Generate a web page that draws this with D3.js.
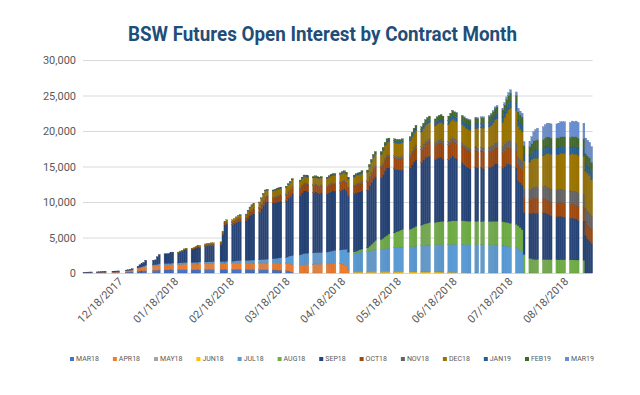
<!DOCTYPE html>
<html>
<head>
<meta charset="utf-8">
<script src="https://cdn.jsdelivr.net/npm/d3@7"></script>
<style>
  body { margin: 0; background: #fff; }
  text { font-family: Roboto, "Liberation Sans", Arial, sans-serif; }
</style>
</head>
<body>
<svg width="640" height="395"></svg>
<script>
// trading days, one line per ~4 weeks
var dates = [
  "2017-12-11","2017-12-12","2017-12-13","2017-12-14","2017-12-15", "2017-12-18","2017-12-19","2017-12-20","2017-12-21","2017-12-22", "2017-12-26","2017-12-27","2017-12-28","2017-12-29", "2018-01-02","2018-01-03","2018-01-04","2018-01-05",
  "2018-01-08","2018-01-09","2018-01-10","2018-01-11","2018-01-12", "2018-01-16","2018-01-17","2018-01-18","2018-01-19", "2018-01-22","2018-01-23","2018-01-24","2018-01-25","2018-01-26", "2018-01-29","2018-01-30","2018-01-31","2018-02-01","2018-02-02",
  "2018-02-05","2018-02-06","2018-02-07","2018-02-08","2018-02-09", "2018-02-12","2018-02-13","2018-02-14","2018-02-15","2018-02-16", "2018-02-20","2018-02-21","2018-02-22","2018-02-23", "2018-02-26","2018-02-27","2018-02-28","2018-03-01","2018-03-02",
  "2018-03-05","2018-03-06","2018-03-07","2018-03-08","2018-03-09", "2018-03-12","2018-03-13","2018-03-14","2018-03-15","2018-03-16", "2018-03-19","2018-03-20","2018-03-21","2018-03-22","2018-03-23", "2018-03-26","2018-03-27","2018-03-28","2018-03-29",
  "2018-04-02","2018-04-03","2018-04-04","2018-04-05","2018-04-06", "2018-04-09","2018-04-10","2018-04-11","2018-04-12","2018-04-13", "2018-04-16","2018-04-17","2018-04-18","2018-04-19","2018-04-20", "2018-04-23","2018-04-24","2018-04-25","2018-04-26","2018-04-27",
  "2018-04-30","2018-05-01","2018-05-02","2018-05-03","2018-05-04", "2018-05-07","2018-05-08","2018-05-09","2018-05-10","2018-05-11", "2018-05-14","2018-05-15","2018-05-16","2018-05-17","2018-05-18", "2018-05-21","2018-05-22","2018-05-23","2018-05-24","2018-05-25",
  "2018-05-29","2018-05-30","2018-05-31","2018-06-01", "2018-06-04","2018-06-05","2018-06-06","2018-06-07","2018-06-08", "2018-06-11","2018-06-12","2018-06-13","2018-06-14","2018-06-15", "2018-06-18","2018-06-19","2018-06-20","2018-06-21","2018-06-22",
  "2018-06-25","2018-06-26","2018-06-27","2018-06-28","2018-06-29", "2018-07-02","2018-07-03","2018-07-05","2018-07-06", "2018-07-09","2018-07-10","2018-07-11","2018-07-12","2018-07-13", "2018-07-16","2018-07-17","2018-07-18","2018-07-19","2018-07-20",
  "2018-07-23","2018-07-24","2018-07-25","2018-07-26","2018-07-27", "2018-07-30","2018-07-31","2018-08-01","2018-08-02","2018-08-03", "2018-08-06","2018-08-07","2018-08-08","2018-08-09","2018-08-10", "2018-08-13","2018-08-14","2018-08-15","2018-08-16","2018-08-17",
  "2018-08-20","2018-08-21","2018-08-22","2018-08-23","2018-08-24", "2018-08-27","2018-08-28","2018-08-29","2018-08-30","2018-08-31"
];

// open interest per contract month, same layout as dates
var MAR18 = [
  40,40,50,50,50, 60,60,70,70,70, 80,80,90,90, 120,130,140,150,
  250,280,300,330,350, 380,390,400,420, 430,430,440,440,450, 450,460,460,470,470,
  470,480,480,490,490, 490,490,500,500,500, 500,500,510,510, 510,510,520,520,520,
  520,510,500,490,480, 470,460,450,450,440, 430,420,410,400,390, 350,300,200,100,
  0,0,0,0,0, 0,0,0,0,0, 0,0,0,0,0, 0,0,0,0,0,
  0,0,0,0,0, 0,0,0,0,0, 0,0,0,0,0, 0,0,0,0,0,
  0,0,0,0, 0,0,0,0,0, 0,0,0,0,0, 0,0,0,0,0,
  0,0,0,0,0, 0,0,0,0, 0,0,0,0,0, 0,0,0,0,0,
  0,0,0,0,0, 0,0,0,0,0, 0,0,0,0,0, 0,0,0,0,0,
  0,0,0,0,0, 0,0,0,0,0
];
var APR18 = [
  20,20,30,30,30, 40,50,50,60,60, 70,80,80,90, 180,200,230,260,
  400,450,480,520,560, 600,620,650,680, 700,700,710,720,730, 730,740,750,760,770,
  770,780,780,790,800, 800,800,810,810,820, 820,830,840,850, 850,860,870,880,880,
  890,900,910,920,930, 940,950,950,960,960, 970,980,990,1000,1010, 1020,1040,1060,1080,
  1100,1120,1140,1150,1150, 1200,1220,1230,1240,1250, 1260,1270,1280,1290,1300, 1300,1250,1200,1000,400,
  0,0,0,0,0, 0,0,0,0,0, 0,0,0,0,0, 0,0,0,0,0,
  0,0,0,0, 0,0,0,0,0, 0,0,0,0,0, 0,0,0,0,0,
  0,0,0,0,0, 0,0,0,0, 0,0,0,0,0, 0,0,0,0,0,
  0,0,0,0,0, 0,0,0,0,0, 0,0,0,0,0, 0,0,0,0,0,
  0,0,0,0,0, 0,0,0,0,0
];
var MAY18 = [
  0,0,0,0,0, 0,0,0,0,0, 0,0,0,0, 30,30,30,40,
  40,40,50,50,50, 50,50,50,50, 50,50,50,50,50, 50,50,50,50,50,
  50,50,50,50,50, 50,50,50,50,50, 50,50,50,50, 50,50,50,50,50,
  50,50,50,50,50, 50,50,50,50,50, 50,50,50,50,50, 50,50,50,50,
  50,50,50,50,50, 50,50,50,50,50, 50,50,50,50,50, 50,50,50,50,50,
  80,80,80,80,80, 80,80,80,80,80, 80,80,70,70,70, 60,60,50,50,40,
  30,20,0,0, 0,0,0,0,0, 0,0,0,0,0, 0,0,0,0,0,
  0,0,0,0,0, 0,0,0,0, 0,0,0,0,0, 0,0,0,0,0,
  0,0,0,0,0, 0,0,0,0,0, 0,0,0,0,0, 0,0,0,0,0,
  0,0,0,0,0, 0,0,0,0,0
];
var JUN18 = [
  0,0,0,0,0, 0,0,0,0,0, 0,0,0,0, 0,0,0,0,
  0,0,0,0,0, 0,0,0,0, 0,0,0,0,0, 0,0,0,0,0,
  0,0,0,0,0, 0,0,0,0,0, 0,0,0,0, 0,0,0,0,0,
  0,0,0,0,0, 0,0,0,0,0, 0,0,0,0,0, 0,0,0,0,
  0,0,0,0,0, 0,0,0,0,0, 0,0,0,0,0, 0,0,0,0,0,
  100,100,100,100,100, 110,110,120,120,130, 130,130,140,140,140, 140,150,150,150,150,
  150,150,150,150, 150,150,150,150,150, 150,150,140,140,130, 130,120,110,100,80,
  60,40,20,10,0, 0,0,0,0, 0,0,0,0,0, 0,0,0,0,0,
  0,0,0,0,0, 0,0,0,0,0, 0,0,0,0,0, 0,0,0,0,0,
  0,0,0,0,0, 0,0,0,0,0
];
var JUL18 = [
  0,0,0,0,0, 0,0,0,0,0, 0,0,0,0, 0,0,0,0,
  50,60,70,80,100, 120,120,140,150, 160,160,170,170,180, 180,190,190,200,200,
  200,200,210,210,220, 220,220,230,230,230, 230,240,250,250, 260,270,280,290,300,
  310,330,350,370,390, 400,430,460,490,520, 560,600,640,680,720, 800,950,1100,1250,
  1400,1500,1550,1600,1600, 1600,1600,1600,1600,1600, 1650,1700,1750,1800,1850, 1900,2000,2100,2250,2400,
  2600,2650,2700,2750,2800, 2850,2900,2950,3000,3050, 3100,3150,3200,3250,3300, 3350,3400,3400,3450,3450,
  3500,3550,3600,3650, 3700,3720,3750,3780,3800, 3820,3840,3860,3880,3900, 3900,3920,3940,3950,3960,
  4000,4000,4000,4000,4000, 4000,4000,4000,4000, 4000,4000,3980,3960,3950, 3900,3850,3800,3750,3700,
  3600,3400,3200,3000,0, 0,0,0,0,0, 0,0,0,0,0, 0,0,0,0,0,
  0,0,0,0,0, 0,0,0,0,0
];
var AUG18 = [
  0,0,0,0,0, 0,0,0,0,0, 0,0,0,0, 0,0,0,0,
  0,0,0,0,0, 0,0,0,0, 0,0,0,0,0, 0,0,0,0,0,
  0,0,0,0,0, 0,0,0,0,0, 0,0,0,0, 0,0,0,0,0,
  0,0,0,0,0, 0,0,0,0,0, 0,0,0,0,0, 0,0,0,0,
  0,0,0,0,0, 0,0,0,0,0, 0,0,0,0,0, 0,0,0,50,100,
  200,250,300,350,400, 500,700,900,1100,1300, 1400,1550,1700,1850,2000, 2100,2200,2300,2400,2500,
  2500,2600,2700,2800, 2900,3000,3050,3100,3150, 3150,3200,3200,3250,3250, 3250,3280,3300,3300,3300,
  3300,3300,3300,3300,3300, 3300,3300,3300,3300, 3300,3300,3320,3340,3360, 3350,3340,3330,3320,3300,
  3280,3250,3200,3100,2600, 2100,2000,1950,1900,1900, 1900,1900,1900,1880,1880, 1880,1870,1870,1860,1860,
  1860,1850,1850,1840,1840, 1800,0,0,0,0
];
var SEP18 = [
  40,50,50,60,70, 60,70,80,90,100, 100,110,110,120, 90,100,120,150,
  210,320,400,520,740, 650,670,1060,1300, 1360,1360,1380,1470,1540, 1440,1540,1630,1760,1810,
  1810,1870,1990,2050,2060, 2210,2290,2260,2290,2280, 2410,3800,5080,5230, 5170,5300,5390,5510,5530,
  5570,5920,6280,6440,6510, 6660,7140,7600,8010,8020, 7850,7860,7880,7890,7920, 7930,8190,8380,8680,
  8380,8630,8830,8750,8650, 8490,8550,8410,8280,8360, 8190,8300,8400,8410,8330, 8360,8460,8490,8240,7920,
  8170,8240,8200,8170,8230, 8130,8490,8740,9010,8970, 8710,8970,9330,9500,9310, 9050,8740,8630,8430,8420,
  8610,8910,9220,9310, 8840,9060,9320,9380,9350, 8830,8980,9090,9040,8750, 8670,8940,9200,8900,8710,
  8210,7950,7690,7530,7380, 7590,7490,7500,7400, 7500,7610,7810,8060,8050, 7500,7840,8180,8320,8270,
  7910,6350,6280,6360,5940, 6200,6420,6530,6510,6520, 6600,6600,6480,6350,6150, 6090,6080,6140,6080,6000,
  5830,5910,5800,5780,5570, 5510,5200,4870,4560,4190
];
var OCT18 = [
  0,0,0,0,0, 0,0,0,0,0, 0,0,0,0, 0,0,0,0,
  0,0,0,0,0, 0,0,0,0, 0,0,0,0,0, 50,60,60,80,100,
  100,110,120,130,140, 150,160,160,170,170, 180,220,260,280, 300,320,340,360,380,
  400,450,500,550,600, 620,650,680,700,720, 740,760,780,800,820, 840,860,880,900,
  920,940,950,960,960, 970,980,990,1000,1000, 1000,1010,1020,1030,1040, 1050,1060,1070,1080,1090,
  1100,1110,1120,1130,1140, 1150,1200,1250,1300,1350, 1380,1420,1460,1500,1520, 1530,1540,1550,1560,1570,
  1600,1650,1700,1750, 1800,1850,1900,1950,2000, 2020,2040,2060,2080,2100, 2120,2140,2160,2180,2200,
  2300,2320,2340,2350,2350, 2360,2370,2380,2390, 2330,2310,2290,2270,2250, 2230,2250,2270,2290,2310,
  2300,2200,2150,2100,2050, 2050,2080,2100,2110,2110, 1950,1950,1950,1950,1950, 1950,1950,1960,1960,1960,
  1960,1970,1970,1980,1980, 1980,1980,1990,1990,2000
];
var NOV18 = [
  0,0,0,0,0, 0,0,0,0,0, 0,0,0,0, 0,0,0,0,
  0,0,0,0,0, 0,0,0,0, 0,0,0,0,0, 0,0,0,0,0,
  0,0,0,0,0, 30,30,30,30,30, 30,40,50,50, 60,60,70,70,80,
  80,90,100,100,100, 100,110,120,120,130, 130,140,140,150,150, 150,150,150,150,
  150,150,160,160,160, 160,160,170,170,170, 170,170,180,180,180, 180,190,190,200,200,
  200,200,210,210,220, 220,230,240,250,260, 270,280,290,300,310, 310,320,320,330,330,
  340,350,360,370, 380,390,400,410,420, 430,440,450,460,470, 480,490,500,510,520,
  470,480,490,500,500, 500,510,510,520, 600,650,700,750,800, 850,900,950,1000,1050,
  1100,1150,1200,1250,1300, 1400,1500,1600,1650,1650, 1750,1800,1850,1850,1850, 1850,1860,1870,1880,1890,
  1900,1900,1910,1910,1920, 1920,1930,1930,1940,1940
];
var DEC18 = [
  0,0,0,0,0, 0,0,0,0,0, 0,0,0,0, 0,0,0,0,
  0,0,0,0,0, 0,0,0,0, 0,0,0,0,0, 50,60,60,80,100,
  100,110,120,130,140, 150,160,160,170,170, 180,220,260,280, 300,330,360,390,420,
  440,500,560,620,680, 700,740,780,800,820, 830,840,850,860,870, 880,880,890,900,
  900,910,920,930,930, 930,940,950,960,970, 980,990,1000,1010,1020, 1030,1040,1050,1060,1070,
  1080,1090,1100,1110,1120, 1150,1250,1350,1450,1550, 1600,1670,1740,1800,1840, 1850,1860,1870,1880,1890,
  1900,1960,2020,2080, 2100,2150,2200,2250,2300, 2320,2340,2360,2380,2400, 2420,2450,2480,2510,2540,
  2550,2560,2570,2580,2600, 2650,2700,2750,2800, 2850,2950,3050,3200,3300, 3400,3700,4000,4300,4600,
  4700,4300,4200,4100,3900, 3900,3950,4000,4000,4000, 4300,4500,4700,4800,4850, 4900,4950,5000,5050,5100,
  5150,5200,5200,5250,5250, 5250,5250,5250,5250,5000
];
var JAN19 = [
  0,0,0,0,0, 0,0,0,0,0, 0,0,0,0, 0,0,0,0,
  0,0,0,0,0, 0,0,0,0, 0,0,0,0,0, 0,0,0,0,0,
  0,0,0,0,0, 0,0,0,0,0, 0,0,0,0, 0,0,20,30,40,
  40,50,50,60,60, 60,70,80,80,90, 90,90,100,100,100, 100,100,100,100,
  100,100,100,100,100, 100,100,100,100,100, 100,110,110,120,120, 120,130,130,140,140,
  140,150,150,160,160, 160,180,200,210,220, 230,240,250,260,270, 270,280,280,290,290,
  300,320,340,360, 380,400,420,440,460, 480,490,500,510,520, 530,540,550,560,570,
  560,570,580,590,600, 610,620,630,640, 650,670,690,710,730, 750,800,850,900,950,
  950,900,900,900,950, 950,1000,1100,1150,1170, 1000,1000,1000,1000,1000, 1000,1000,1010,1010,1020,
  1020,1030,1030,1040,1040, 1040,1040,1050,1050,1050
];
var FEB19 = [
  0,0,0,0,0, 0,0,0,0,0, 0,0,0,0, 0,0,0,0,
  0,0,0,0,0, 0,0,0,0, 0,0,0,0,0, 0,0,0,0,0,
  0,0,0,0,0, 0,0,0,0,0, 0,0,0,0, 0,0,0,0,0,
  0,0,0,0,0, 0,0,30,40,50, 50,60,60,70,70, 80,80,90,90,
  100,100,100,100,100, 100,100,100,100,100, 100,100,110,110,110, 110,120,120,130,130,
  130,130,140,140,150, 150,160,170,180,190, 200,210,220,230,240, 240,250,250,260,260,
  270,290,310,330, 350,380,410,440,470, 500,520,540,560,580, 600,620,640,660,680,
  700,720,740,760,780, 790,800,810,820, 830,850,880,910,940, 970,1020,1070,1120,1170,
  1180,1150,1150,1150,1200, 1200,1250,1320,1380,1410, 1300,1300,1320,1320,1320, 1330,1340,1350,1360,1370,
  1380,1390,1390,1400,1400, 1400,1400,1410,1410,1420
];
var MAR19 = [
  0,0,0,0,0, 0,0,0,0,0, 0,0,0,0, 0,0,0,0,
  0,0,0,0,0, 0,0,0,0, 0,0,0,0,0, 0,0,0,0,0,
  0,0,0,0,0, 0,0,0,0,0, 0,0,0,0, 0,0,0,0,0,
  0,0,0,0,0, 0,0,0,0,0, 0,0,0,0,0, 0,0,0,0,
  0,0,0,0,0, 0,0,0,0,0, 0,0,0,0,0, 0,0,0,0,0,
  0,0,0,0,0, 0,0,0,0,0, 0,0,0,0,0, 0,0,0,0,0,
  0,0,0,0, 0,0,0,0,0, 0,0,0,0,0, 0,0,20,30,40,
  50,60,70,80,90, 100,110,120,130, 140,160,180,200,220, 250,300,350,400,450,
  480,500,520,540,560, 700,1000,1300,1500,1640, 1800,1850,1900,1950,2000, 2000,2050,2100,2100,2100,
  2100,2150,2150,2200,2200, 2200,2200,2200,2200,2200
];

var names = ["MAR18","APR18","MAY18","JUN18","JUL18","AUG18","SEP18","OCT18","NOV18","DEC18","JAN19","FEB19","MAR19"];
var colors = ["#4472c4","#ed7d31","#a5a5a5","#ffc000","#5b9bd5","#70ad47","#264478","#9e480e","#636363","#997300","#255e91","#43682b","#698ed0"];
var yTicks = [0, 5000, 10000, 15000, 20000, 25000, 30000];
var xLabels = ["12/18/2017","01/18/2018","02/18/2018","03/18/2018","04/18/2018","05/18/2018","06/18/2018","07/18/2018","08/18/2018"];

var series = [MAR18, APR18, MAY18, JUN18, JUL18, AUG18, SEP18, OCT18, NOV18, DEC18, JAN19, FEB19, MAR19];
series.forEach(function(s, j) {
  if (s.length !== dates.length) throw new Error(names[j] + " has " + s.length + " values, expected " + dates.length);
});

var svg = d3.select("svg"),
    plotLeft = 83, plotRight = 592.6, plotTop = 60, plotBottom = 273;

var parseDate = d3.timeParse("%Y-%m-%d");
var rows = dates.map(function(d, i) {
  var row = { date: parseDate(d) };
  names.forEach(function(n, j) { row[n] = series[j][i]; });
  return row;
});

var x = d3.scaleTime()
    .domain([parseDate("2017-12-11"), parseDate("2018-09-01")])
    .range([plotLeft, plotRight]);
var y = d3.scaleLinear().domain([0, 30000]).range([plotBottom, plotTop]);

svg.append("rect").attr("width", 640).attr("height", 395).attr("fill", "#fff");

svg.append("text")
    .attr("x", 322.5)
    .attr("y", 41)
    .attr("text-anchor", "middle")
    .attr("fill", "#1f4e79")
    .attr("textLength", 389)
    .attr("lengthAdjust", "spacingAndGlyphs")
    .style("font-size", "20px")
    .style("font-weight", "bold")
    .text("BSW Futures Open Interest by Contract Month");

// gridlines and value labels
var yAxis = svg.append("g")
    .attr("transform", "translate(" + plotLeft + ",0)")
    .call(d3.axisLeft(y)
      .tickValues(yTicks)
      .tickSize(-(plotRight - plotLeft))
      .tickPadding(7)
      .tickFormat(d3.format(",")));
yAxis.select(".domain").remove();
yAxis.selectAll("line").attr("stroke", "#d9d9d9");
yAxis.selectAll("text").attr("fill", "#595959").style("font-size", "11px");

// stacked daily columns
var layers = d3.stack().keys(names)(rows);
svg.append("g").selectAll("g")
  .data(layers)
  .enter().append("g")
    .attr("fill", function(d, i) { return colors[i]; })
    .attr("stroke", function(d, i) { return d3.color(colors[i]).darker(0.6); })
    .attr("stroke-width", 0.3)
  .selectAll("rect")
  .data(function(d) { return d.filter(function(p) { return p[1] > p[0]; }); })
  .enter().append("rect")
    .attr("x", function(d) { return x(d.data.date); })
    .attr("width", function(d) { return x(d3.timeDay.offset(d.data.date, 1)) - x(d.data.date); })
    .attr("y", function(d) { return y(d[1]); })
    .attr("height", function(d) { return y(d[0]) - y(d[1]); });

// date labels, evenly spaced as in the original
var xl = d3.scalePoint().domain(xLabels).range([121.7, 567.3]);
svg.append("g").selectAll("text")
  .data(xLabels)
  .enter().append("text")
    .attr("transform", function(d) { return "translate(" + (xl(d) - 1) + ",279.5) rotate(-45)"; })
    .attr("text-anchor", "end")
    .attr("dy", "0.35em")
    .attr("fill", "#595959")
    .style("font-size", "11px")
    .text(function(d) { return d; });

// legend
var legend = svg.append("g");
var items = legend.selectAll("g")
  .data(names)
  .enter().append("g");
items.append("rect")
    .attr("y", 357)
    .attr("width", 4)
    .attr("height", 4)
    .attr("fill", function(d, i) { return colors[i]; });
items.append("text")
    .attr("x", 6)
    .attr("y", 359)
    .attr("dy", "0.35em")
    .attr("fill", "#595959")
    .style("font-size", "7px")
    .text(function(d) { return d; });

var widths = items.select("text").nodes().map(function(n) { return n.getComputedTextLength(); });
var firstX = 70, lastX = 565;
var used = d3.sum(widths.slice(0, -1)) + 6 * (names.length - 1);
var gap = (lastX - firstX - used) / (names.length - 1);
var pos = firstX;
items.attr("transform", function(d, i) {
  var t = "translate(" + pos + ",0)";
  pos += 6 + widths[i] + gap;
  return t;
});
</script>
</body>
</html>
